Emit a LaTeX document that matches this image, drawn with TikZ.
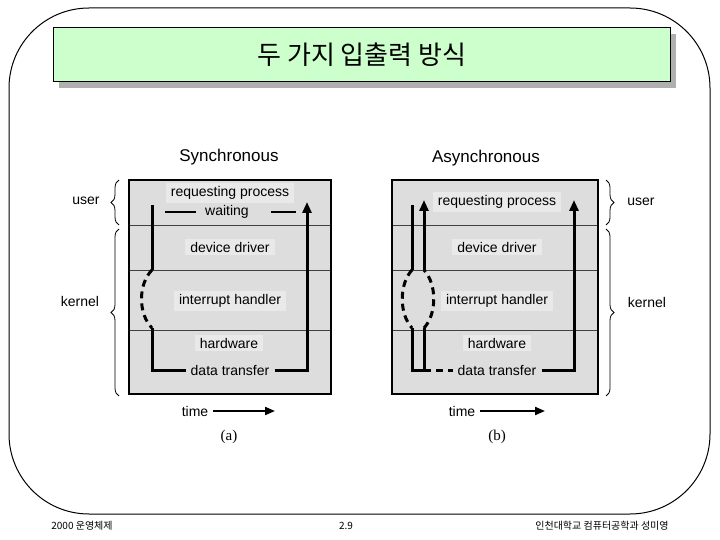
\documentclass[tikz,border=0pt]{standalone}
\usepackage{fontspec}
\setmainfont{Liberation Sans}
\newfontfamily\krfont{Noto Sans CJK KR}
\newfontfamily\serifab{Liberation Serif}
\usetikzlibrary{arrows.meta,decorations.pathreplacing}
\definecolor{titlegreen}{HTML}{CCFFCC}
\definecolor{boxgray}{HTML}{DDDDDD}
\definecolor{patchgray}{HTML}{E9E9E9}
\definecolor{shadowgray}{HTML}{B0B0B0}
\begin{document}
\begin{tikzpicture}[x=1pt,y=-1pt,
  lbl/.style={font=\fontsize{14}{16}\selectfont, fill=patchgray, inner xsep=5pt, inner ysep=3pt},
  side/.style={font=\fontsize{14}{16}\selectfont, inner sep=0pt},
  head/.style={font=\fontsize{17}{19}\selectfont, inner sep=0pt},
  flow/.style={line width=3pt},
  dflow/.style={line width=3pt, dash pattern=on 7pt off 5pt},
  tip/.style={-{Triangle[length=11pt,width=9pt]}},
  rowline/.style={line width=0.8pt, draw=black!75},
  brc/.style={decorate, decoration={brace, amplitude=8pt}, line width=0.8pt},
  foot/.style={font=\krfont\fontsize{10}{12}\selectfont, inner sep=0pt}]
\useasboundingbox (0,0) rectangle (720,540);
% frame
\draw[line width=1pt, rounded corners=80pt] (9,8) rectangle (710,514);
% title
\fill[shadowgray] (59,34) rectangle (676,88);
\node[draw=black, line width=1pt, fill=titlegreen, minimum width=617pt, minimum height=54pt, inner sep=0pt, anchor=north west] (title) at (53,27) {};
\node[font=\krfont\fontsize{26}{29}\selectfont] (titletext) at (title.center) {두 가지 입출력 방식};

% ---------- (a) Synchronous ----------
\node[head] (synch) at (229,157) {Synchronous};
\fill[boxgray] (129,180) rectangle (331,394);
\draw[rowline] (129,225) -- (331,225);
\draw[rowline] (129,270) -- (331,270);
\draw[rowline] (129,330) -- (331,330);
\draw[line width=1.3pt] (129,180) rectangle (331,394);
\node[lbl] (ra) at (230,193) {requesting process};
\node[side, fill=boxgray, inner xsep=9pt] (wait) at (227,212) {waiting};
\node[lbl] (dda) at (230,247) {device driver};
\node[lbl] (iha) at (230,301) {interrupt handler};
\node[lbl] (hwa) at (229,343) {hardware};
\node[lbl, fill=none] (dta) at (230,370) {data transfer};
\coordinate (wl) at (165,212);
\coordinate (wr) at (296,212);
\draw[line width=2pt] (wl) -- (wait.west);
\draw[line width=2pt] (wait.east) ++(13,0) coordinate (wrs) (wrs) -- (wr);
\coordinate (a1) at (152,205);
\coordinate (a2) at (152,270);
\coordinate (a3) at (152,328);
\coordinate (a4) at (152,370);
\coordinate (a5) at (307,370);
\coordinate (a6) at (307,202);
\draw[flow] (a1) -- (a2);
\draw[dflow] (a2) .. controls (138,284) and (138,314) .. (a3);
\draw[flow, line join=miter] (a3) -- (a4) -- (dta.west);
\draw[flow, tip, line join=miter] (dta.east) -- (a5) -- (a6);
\node[side] (usera) at (86,201) {user};
\node[side] (kernela) at (80,301) {kernel};
\coordinate (ub1) at (119,225);
\coordinate (ub2) at (119,180);
\coordinate (kb1) at (119,396);
\coordinate (kb2) at (119,229);
\draw[brc] (ub1) -- (ub2);
\draw[brc] (kb1) -- (kb2);
\node[side] (timea) at (195,411) {time};
\coordinate (ta) at (275,411);
\draw[line width=2pt, -{Triangle[length=10pt,width=8pt]}] (timea.east) ++(5,0) coordinate (tas) (tas) -- (ta);
\node[font=\serifab\fontsize{15}{17}\selectfont] (capa) at (229,437) {(a)};

% ---------- (b) Asynchronous ----------
\node[head] (asynch) at (486,158) {Asynchronous};
\fill[boxgray] (392,180) rectangle (598,394);
\draw[rowline] (392,225) -- (598,225);
\draw[rowline] (392,270) -- (598,270);
\draw[rowline] (392,330) -- (598,330);
\draw[line width=1.3pt] (392,180) rectangle (598,394);
\node[lbl] (rb) at (497,202) {requesting process};
\node[lbl] (ddb) at (497,247) {device driver};
\node[lbl] (ihb) at (497,301) {interrupt handler};
\node[lbl] (hwb) at (497,343) {hardware};
\node[lbl, fill=none] (dtb) at (497,370) {data transfer};
\coordinate (b1) at (412,205);
\coordinate (b2) at (412,270);
\coordinate (b3) at (412,328);
\coordinate (b4) at (412,370);
\coordinate (b5) at (424,370);
\coordinate (b6) at (424,328);
\coordinate (b7) at (424,270);
\coordinate (b8) at (424,200);
\coordinate (b9) at (574,370);
\coordinate (b10) at (574,200);
\draw[flow] (b1) -- (b2);
\draw[dflow] (b2) .. controls (399,284) and (399,314) .. (b3);
\draw[flow, line join=miter] (b3) -- (b4) -- (b5) -- (b6);
\draw[dflow] (b6) .. controls (437,314) and (437,284) .. (b7);
\draw[flow, tip] (b7) -- (b8);
\draw[dflow] (b5) -- (dtb.west);
\draw[flow, tip, line join=miter] (dtb.east) -- (b9) -- (b10);
\node[side] (userb) at (641,202) {user};
\node[side] (kernelb) at (647,302) {kernel};
\coordinate (ub3) at (606,180);
\coordinate (ub4) at (606,225);
\coordinate (kb3) at (606,229);
\coordinate (kb4) at (606,396);
\draw[brc] (ub3) -- (ub4);
\draw[brc] (kb3) -- (kb4);
\node[side] (timeb) at (462,411) {time};
\coordinate (tb) at (545,411);
\draw[line width=2pt, -{Triangle[length=10pt,width=8pt]}] (timeb.east) ++(5,0) coordinate (tbs) (tbs) -- (tb);
\node[font=\serifab\fontsize{15}{17}\selectfont] (capb) at (497,437) {(b)};

% ---------- footer ----------
\node[foot] (f1) at (82,526) {2000 운영체제};
\node[foot] (f2) at (346,526) {2.9};
\node[foot] (f3) at (602,526) {인천대학교 컴퓨터공학과 성미영};
\end{tikzpicture}
\end{document}
